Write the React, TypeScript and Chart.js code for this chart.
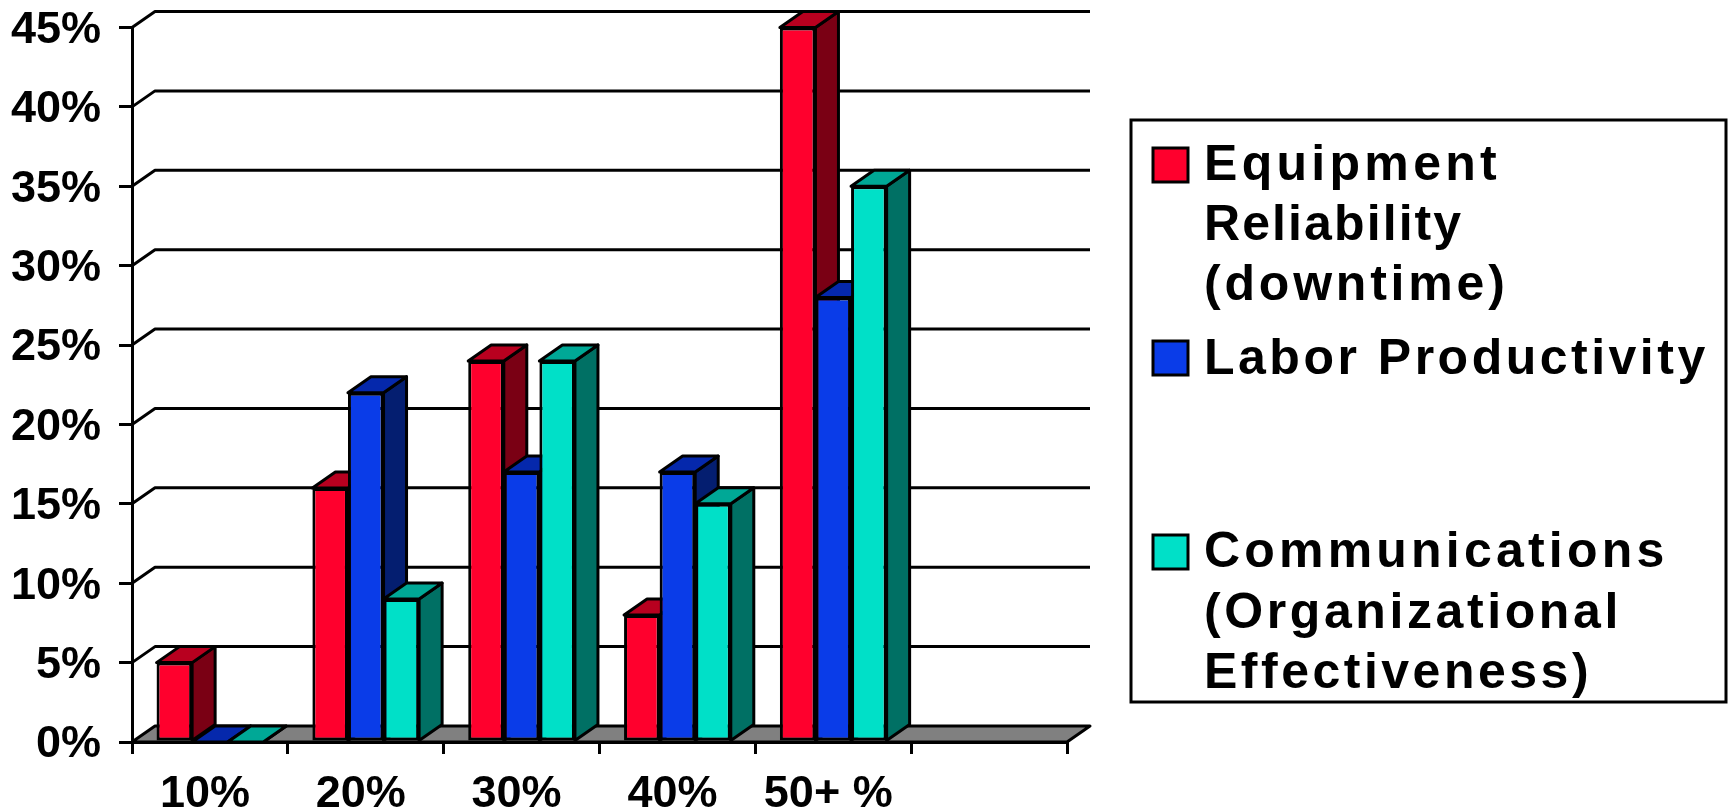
import React, { useEffect, useRef } from "react";
import { Chart, registerables } from "chart.js";

Chart.register(...registerables);

const FONT_FAMILY = '"Liberation Sans", Arial, sans-serif';

const categories = ["10%", "20%", "30%", "40%", "50+ %", ""];
const equipmentReliability = [5, 16, 24, 8, 45, 0];
const laborProductivity = [0, 22, 17, 17, 28, 0];
const communications = [0, 9, 24, 15, 35, 0];

const seriesNames = ["Equipment Reliability (downtime)", "Labor Productivity", "Communications (Organizational Effectiveness)"];
const frontColors = ["#FF002D", "#0A3CE8", "#00E0C8"];
const topColors = ["#B8001F", "#0528AC", "#00A896"];
const sideColors = ["#7A0014", "#041E70", "#007064"];

const DEPTH_X = 23;
const DEPTH_Y = 16;

// Legend layout: each entry has a swatch and its wrapped lines with baselines and tracking.
const legendBox = { left: 1131, top: 120, right: 1726, bottom: 702 };
const legendEntries = [
  { swatchTop: 148, lines: ["Equipment", "Reliability", "(downtime)"], baselines: [180, 240, 300], tracking: [4.3, 2.1, 3.8] },
  { swatchTop: 341, lines: ["Labor Productivity"], baselines: [374], tracking: [3.5] },
  { swatchTop: 535, lines: ["Communications", "(Organizational", "Effectiveness)"], baselines: [567, 628, 688], tracking: [4.2, 3.6, 3.5] },
];

function polygon(ctx: CanvasRenderingContext2D, pts: number[][], fill: string) {
  ctx.beginPath();
  pts.forEach(([x, y], i) => (i ? ctx.lineTo(x, y) : ctx.moveTo(x, y)));
  ctx.closePath();
  ctx.fillStyle = fill;
  ctx.fill();
  ctx.stroke();
}

// Back wall gridlines and the grey floor of the 3D plot box.
const backdropPlugin = {
  id: "backdrop",
  beforeDatasetsDraw(chart: any) {
    const { ctx, chartArea, scales } = chart;
    const { left, right, bottom } = chartArea;
    ctx.save();
    ctx.strokeStyle = "#000";
    ctx.lineWidth = 3;
    ctx.lineJoin = "round";
    scales.y.ticks.forEach((t: any) => {
      if (t.value === 0) return;
      const y = scales.y.getPixelForValue(t.value);
      ctx.beginPath();
      ctx.moveTo(left, y);
      ctx.lineTo(left + DEPTH_X, y - DEPTH_Y);
      ctx.lineTo(right + DEPTH_X, y - DEPTH_Y);
      ctx.stroke();
    });
    polygon(
      ctx,
      [
        [left, bottom],
        [left + DEPTH_X, bottom - DEPTH_Y],
        [right + DEPTH_X, bottom - DEPTH_Y],
        [right, bottom],
      ],
      "#808080"
    );
    ctx.restore();
  },
};

// Extrudes each bar series left to right: the side and top faces first, then the
// library's own bar element paints the front, so later series cover earlier side faces.
const extrudePlugin = {
  id: "extrude",
  beforeDatasetsDraw(chart: any) {
    const { ctx } = chart;
    ctx.save();
    ctx.lineJoin = "round";
    chart.data.datasets.forEach((_: any, series: number) => {
      const meta = chart.getDatasetMeta(series);
      meta.data.forEach((bar: any, i: number) => {
        if (i === categories.length - 1) return;
        const { x, y, base, width } = bar.getProps(["x", "y", "base", "width"], true);
        const l = x - width / 2;
        const r = x + width / 2;
        ctx.strokeStyle = "#000";
        ctx.lineWidth = 3;
        polygon(
          ctx,
          [
            [r, y],
            [r + DEPTH_X, y - DEPTH_Y],
            [r + DEPTH_X, base - DEPTH_Y],
            [r, base],
          ],
          sideColors[series]
        );
        polygon(
          ctx,
          [
            [l, y],
            [l + DEPTH_X, y - DEPTH_Y],
            [r + DEPTH_X, y - DEPTH_Y],
            [r, y],
          ],
          topColors[series]
        );
        bar.draw(ctx);
      });
    });
    ctx.restore();
  },
  // The bars were already painted above, in back-to-front order.
  beforeDatasetDraw() {
    return false;
  },
};

// Boxed legend on the right with letter-spaced wrapped labels.
const boxLegendPlugin = {
  id: "boxLegend",
  afterDraw(chart: any) {
    const { ctx } = chart;
    ctx.save();
    ctx.strokeStyle = "#000";
    ctx.lineWidth = 3;
    ctx.fillStyle = "#fff";
    const b = legendBox;
    ctx.fillRect(b.left, b.top, b.right - b.left, b.bottom - b.top);
    ctx.strokeRect(b.left, b.top, b.right - b.left, b.bottom - b.top);
    legendEntries.forEach((entry, i) => {
      ctx.lineWidth = 3;
      ctx.fillStyle = frontColors[i];
      ctx.fillRect(1153, entry.swatchTop, 35, 34);
      ctx.strokeRect(1153, entry.swatchTop, 35, 34);
      ctx.fillStyle = "#000";
      ctx.font = `bold 50px ${FONT_FAMILY}`;
      ctx.textBaseline = "alphabetic";
      ctx.textAlign = "left";
      entry.lines.forEach((line, j) => {
        (ctx as any).letterSpacing = `${entry.tracking[j]}px`;
        ctx.fillText(line, 1204, entry.baselines[j]);
      });
    });
    ctx.restore();
  },
};

export default function App() {
  const canvasRef = useRef<HTMLCanvasElement>(null);

  useEffect(() => {
    const seriesValues = [equipmentReliability, laborProductivity, communications];
    const chart = new Chart(canvasRef.current as HTMLCanvasElement, {
      type: "bar",
      data: {
        labels: categories,
        datasets: seriesValues.map((data, i) => ({
          label: seriesNames[i],
          data,
          backgroundColor: frontColors[i],
          borderColor: "#000",
          borderWidth: 3,
          borderSkipped: false,
          categoryPercentage: 0.685,
          barPercentage: 1,
        })),
      },
      options: {
        animation: false,
        responsive: false,
        events: [],
        layout: { padding: { left: 0, top: 27.5, right: 661, bottom: 0 } },
        plugins: { legend: { display: false }, tooltip: { enabled: false }, title: { display: false } },
        scales: {
          x: {
            afterFit(scale: any) {
              scale.height = 69;
              scale.paddingLeft = 0;
              scale.paddingRight = 0;
            },
            grid: { drawOnChartArea: false, color: "#000", lineWidth: 3, tickLength: 12, offset: true },
            border: { display: true, color: "#000", width: 3 },
            ticks: {
              color: "#000",
              font: { family: FONT_FAMILY, weight: "bold", size: 45 },
              padding: 14,
              labelOffset: -5,
              maxRotation: 0,
              autoSkip: false,
            },
          },
          y: {
            min: 0,
            max: 45,
            afterFit(scale: any) {
              scale.width = 132;
              scale.paddingTop = 0;
              scale.paddingBottom = 0;
            },
            grid: { drawOnChartArea: false, color: "#000", lineWidth: 3, tickLength: 13 },
            border: { display: true, color: "#000", width: 3 },
            ticks: {
              stepSize: 5,
              color: "#000",
              font: { family: FONT_FAMILY, weight: "bold", size: 45 },
              padding: 18,
              labelOffset: 3,
              callback: (v: any) => `${v}%`,
            },
          },
        },
      },
      plugins: [backdropPlugin, extrudePlugin, boxLegendPlugin],
    } as any);
    return () => chart.destroy();
  }, []);

  return (
    <div style={{ position: "absolute", left: 0, top: 0, width: 1728, height: 811, background: "#fff", overflow: "hidden" }}>
      <canvas ref={canvasRef} width={1728} height={811} style={{ display: "block" }} />
    </div>
  );
}
